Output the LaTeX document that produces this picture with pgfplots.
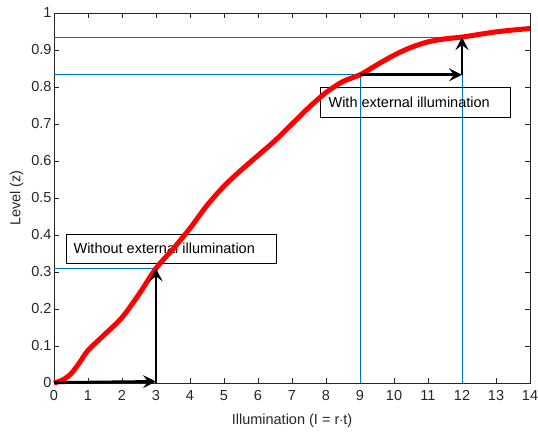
\documentclass[border=0pt]{standalone}
\usepackage{pgfplots}
\pgfplotsset{compat=1.18}
\usepackage{fontspec}
\setmainfont{Liberation Sans}
\usetikzlibrary{arrows.meta}
\definecolor{mblue}{rgb}{0,0.447,0.741}
\definecolor{axgray}{rgb}{0.15,0.15,0.15}
\begin{document}
\begin{tikzpicture}
\begin{axis}[
  scale only axis,
  width=476bp, height=370bp,
  xmin=0, xmax=14, ymin=0, ymax=1,
  xtick={0,1,...,14},
  ytick={0,0.1,...,1.01},
  yticklabel style={/pgf/number format/fixed,/pgf/number format/precision=1, xshift=1bp},
  /pgf/number format/assume math mode=true,
  tick align=inside,
  major tick length=5bp,
  axis line style={axgray, line width=0.6pt},
  every tick/.style={axgray, line width=0.6pt},
  tick label style={font=\fontsize{14.5bp}{16bp}\selectfont, text=axgray},
  label style={font=\fontsize{14.5bp}{16bp}\selectfont, text=axgray},
  xlabel={Illumination (I = r$\cdot$t)},
  ylabel={Level (z)},
  xticklabel style={yshift=-4bp},
  xlabel style={yshift=-6bp},
  ylabel style={yshift=1bp},
  clip=false,
]
% blue guide lines
\addplot[mblue, line width=1pt] coordinates {(0,0.31) (3.02,0.31)};
\addplot[mblue, line width=1pt] coordinates {(0,0.833) (9,0.833) (9,0)};
\addplot[mblue, line width=1pt] coordinates {(0,0.935) (12,0.935) (12,0)};
% text boxes
\draw[black, line width=0.6pt] (axis cs:0.353,0.324) rectangle (axis cs:6.53,0.403);
\node[anchor=west, inner sep=0pt, font=\fontsize{14.5bp}{16bp}\selectfont] at (axis cs:0.57,0.363) {Without external illumination};
\draw[black, line width=0.6pt] (axis cs:7.845,0.718) rectangle (axis cs:13.41,0.799);
\node[anchor=west, inner sep=0pt, font=\fontsize{14.5bp}{16bp}\selectfont] at (axis cs:8.07,0.758) {With external illumination};
% red curve
\addplot[red, line width=5bp, smooth, tension=0.5] coordinates {
(0,0) (0.25,0.008) (0.5,0.025) (0.75,0.055) (1,0.088) (1.5,0.132) (2,0.177)
(2.5,0.24) (3,0.31) (3.5,0.362) (4,0.418) (4.5,0.48) (5,0.532) (5.5,0.575)
(6,0.615) (6.5,0.655) (7,0.70) (7.5,0.745) (8,0.785) (8.5,0.815) (9,0.833)
(9.5,0.86) (10,0.886) (10.5,0.907) (11,0.922) (11.5,0.93) (12,0.935)
(12.5,0.942) (13,0.949) (13.5,0.954) (14,0.958)};
% black arrows
\addplot[black, line width=3pt, -{Stealth[length=13bp, width=13bp, inset=5bp]}] coordinates {(0,0.001) (3,0.004)};
\addplot[black, line width=3pt, -{Stealth[length=13bp, width=13bp, inset=5bp]}] coordinates {(3,0) (3,0.31)};
\addplot[black, line width=3pt, -{Stealth[length=13bp, width=13bp, inset=5bp]}] coordinates {(9,0.833) (12,0.833)};
\addplot[black, line width=3pt, -{Stealth[length=13bp, width=13bp, inset=5bp]}] coordinates {(12,0.833) (12,0.935)};
\end{axis}
\pgfresetboundingbox
\path[use as bounding box] ([shift={(-54bp,-49bp)}]current axis.south west) rectangle ++(538bp,432bp);
\end{tikzpicture}
\end{document}
